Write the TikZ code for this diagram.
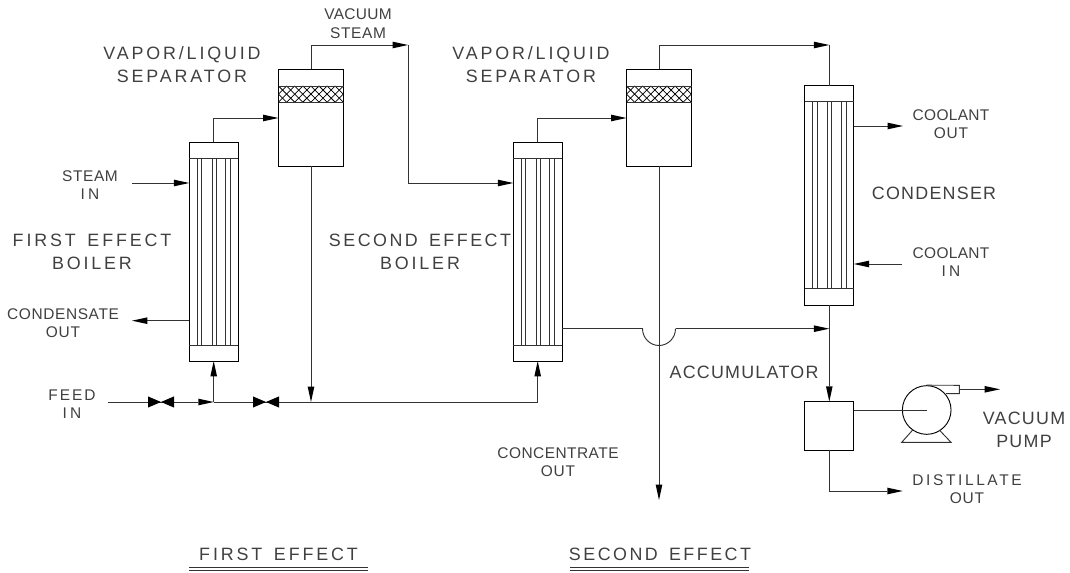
\documentclass[tikz,border=0pt]{standalone}
\usepackage{fontspec}
\setmainfont{Liberation Sans}
\newfontfamily\smf[LetterSpace=2]{Liberation Sans}
\newfontfamily\lgf[LetterSpace=16,WordSpace=1.5]{Liberation Sans}
\newcommand{\ls}[2]{{\addfontfeature{LetterSpace=#1}#2}}
\usetikzlibrary{arrows.meta,calc}
\definecolor{ln}{gray}{0.2}
\tikzset{
  vessel/.style={draw=black,line width=0.7pt,inner sep=0pt,outer sep=0pt,fill=white},
  boiler/.style={vessel,minimum width=36.6pt,minimum height=164pt},
  separator/.style={vessel,minimum width=48.75pt,minimum height=72.75pt},
  accum/.style={vessel,minimum width=36.6pt,minimum height=36.6pt},
  pipe/.style={draw=ln,line width=0.7pt},
  flow/.style={pipe,-{Triangle[length=11.5pt,width=5pt,color=black,fill=black,line width=0pt]}},
  small/.style={align=center,inner sep=0pt,text=black!75,font=\smf\fontsize{11.6}{13.9}\selectfont},
  large/.style={align=center,inner sep=0pt,text=black!75,font=\lgf\fontsize{13.4}{17.25}\selectfont},
  valvefill/.style={fill=black,draw=none}
}
\newcommand{\tubes}[3]{% left x, top header y, bottom header y
  \foreach \d in {7.8,12.2,22.5,26.5,36.3,41}
    \draw[ln,line width=0.6pt] (#1+\d,#2) -- (#1+\d,#3);
  \draw[ln,line width=0.6pt] (#1,#2) -- (#1+48.6,#2) (#1,#3) -- (#1+48.6,#3);
}
\newcommand{\mesh}[3]{% left x, right x, top y
  \begin{scope}
    \clip (#1,#3) rectangle (#2,#3+16);
    \foreach \k in {-3,...,10}{
      \draw[black,line width=0.55pt] (#1+\k*8.1,#3) -- ++(16,16);
      \draw[black,line width=0.55pt] (#1+\k*8.1,#3) -- ++(-16,16);
    }
  \end{scope}
  \draw[ln,line width=0.7pt] (#1,#3) -- (#2,#3) (#1,#3+16) -- (#2,#3+16);
}
\newcommand{\valve}[2]{% centre x, y
  \fill[valvefill] (#1-13,#2-5.6) -- (#1+13,#2+5.6) -- (#1+13,#2-5.6) -- (#1-13,#2+5.6) -- cycle;
}
\begin{document}
\begin{tikzpicture}[x=0.75pt,y=-0.75pt]
\useasboundingbox (0,0) rectangle (1070,573);
% free ends and junctions
\coordinate (steamin) at (132,183);
\coordinate (condout) at (132,320.7);
\coordinate (feedin) at (108,402);
\coordinate (j1) at (213.7,402);
\coordinate (j2) at (311,402);
\coordinate (vac) at (408,45);
\coordinate (vacin) at (408,183);
\coordinate (top2) at (829.3,45);
\coordinate (jbend) at (642.5,328.7);
\coordinate (jbendr) at (675.5,328.7);
\coordinate (jc) at (829.3,328.7);
\coordinate (concout) at (659,500);
\coordinate (distout) at (902.7,491);
\coordinate (coolout) at (903,126);
\coordinate (coolin) at (902,264);
\coordinate (vacout) at (1000,389.3);
% equipment
\node[boiler] (b1) at (213.7,251.7) {};
\node[boiler] (b2) at (537.7,251.7) {};
\node[boiler,minimum height=164.6pt] (cd) at (829.3,195.3) {};
\node[separator] (s1) at (311,118) {};
\node[separator] (s2) at (659,118) {};
\node[accum] (ac) at (829.3,426) {};
\tubes{189.4}{158.5}{345}
\tubes{513.4}{158.5}{345}
\tubes{805}{101.5}{288.8}
\mesh{278.5}{343.5}{86}
\mesh{626.5}{691.5}{86}
% pump
\node[draw=black,line width=0.7pt,circle,inner sep=0pt,minimum size=36.5pt] (pu) at (926.7,410) {};
\coordinate (publ) at (901.7,442.3);
\coordinate (pubr) at (951,442.3);
\coordinate (pudn) at (959.3,393.7);
\coordinate (puup) at (959.3,385.3);
\coordinate (pumid) at (959.3,389.3);
\draw[pipe] (pu.north) -- (puup) -- (pudn) -- (946,393.7);
\draw[pipe] (912.7,430) -- (publ) -- (pubr) -- (939.3,430);
% connectors
\draw[flow] (b1.north) |- (s1.west);
\draw[flow] (b2.north) |- (s2.west);
\draw[flow] (s1.north) |- (vac);
\draw[pipe] (vac) -- (vacin);
\draw[flow] (vacin) -- (vacin -| b2.west);
\draw[flow] (s2.north) |- (top2);
\draw[pipe] (top2) -- (cd.north);
\draw[flow] (steamin) -- (steamin -| b1.west);
\draw[flow] (condout -| b1.west) -- (condout);
\draw[flow] (feedin) -- (j1);
\draw[flow] (j1) -- (b1.south);
\draw[flow] (j1) -| (b2.south);
\draw[flow] (s1.south) -- (j2);
\draw[flow] (s2.south) -- (concout);
\draw[flow] (coolout -| cd.east) -- (coolout);
\draw[flow] (coolin) -- (coolin -| cd.east);
\draw[pipe] (jbend -| b2.east) -- (jbend);
\draw[pipe] (jbend) .. controls (642.5,338) and (650,345.5) .. (659,345.5) .. controls (668,345.5) and (675.5,338) .. (jbendr);
\draw[flow] (jbendr) -- (jc);
\draw[flow] (cd.south) -- (ac.north);
\draw[pipe] (ac.east |- pu.center) -- (pu.center);
\draw[flow] (ac.south) |- (distout);
\draw[flow] (pumid) -- (vacout);
\valve{161}{402}
\valve{266}{402}
% labels
\node[small] (l1) at (358,23.5) {VACUUM\\\ls{4}{STEAM}};
\node[large] (l2) at (182,65) {VAPOR/LIQUID\\SEPARATOR};
\node[large] (l3) at (531,65) {VAPOR/LIQUID\\SEPARATOR};
\node[small] (l4) at (90,185) {\ls{4}{STEAM}\\\ls{20}{IN}};
\node[large] (l5) at (92,251.5) {FIRST EFFECT\\BOILER};
\node[large] (l6) at (420,251.5) {\ls{14}{SECOND EFFECT}\\BOILER};
\node[small] (l7) at (63,323) {\ls{4}{CONDENSATE}\\\ls{5}{OUT}};
\node[small] (l8) at (72,404) {\ls{13}{FEED}\\\ls{20}{IN}};
\node[small] (l9) at (558,462) {\ls{3}{CONCENTRATE}\\\ls{5}{OUT}};
\node[large] (l10) at (744,372) {\ls{7}{ACCUMULATOR}};
\node[large] (l11) at (1024,430) {\ls{7}{VACUUM}\\\ls{7}{PUMP}};
\node[small] (l12) at (967,489) {\ls{17}{DISTILLATE}\\\ls{5}{OUT}};
\node[small] (l13) at (951,124) {COOLANT\\\ls{5}{OUT}};
\node[large] (l14) at (934,193) {\ls{7}{CONDENSER}};
\node[small] (l15) at (951,262) {COOLANT\\\ls{20}{IN}};
\node[large] (l16) at (278.5,554) {FIRST EFFECT};
\node[large] (l17) at (660,554) {\ls{14}{SECOND EFFECT}};
% underlines
\coordinate (u1a) at (189,567.6); \coordinate (u1b) at (368,567.6);
\coordinate (u1c) at (189,570.2); \coordinate (u1d) at (368,570.2);
\coordinate (u2a) at (570,567.6); \coordinate (u2b) at (749,567.6);
\coordinate (u2c) at (570,570.2); \coordinate (u2d) at (749,570.2);
\draw[pipe] (u1a) -- (u1b) (u1c) -- (u1d) (u2a) -- (u2b) (u2c) -- (u2d);
\end{tikzpicture}
\end{document}
